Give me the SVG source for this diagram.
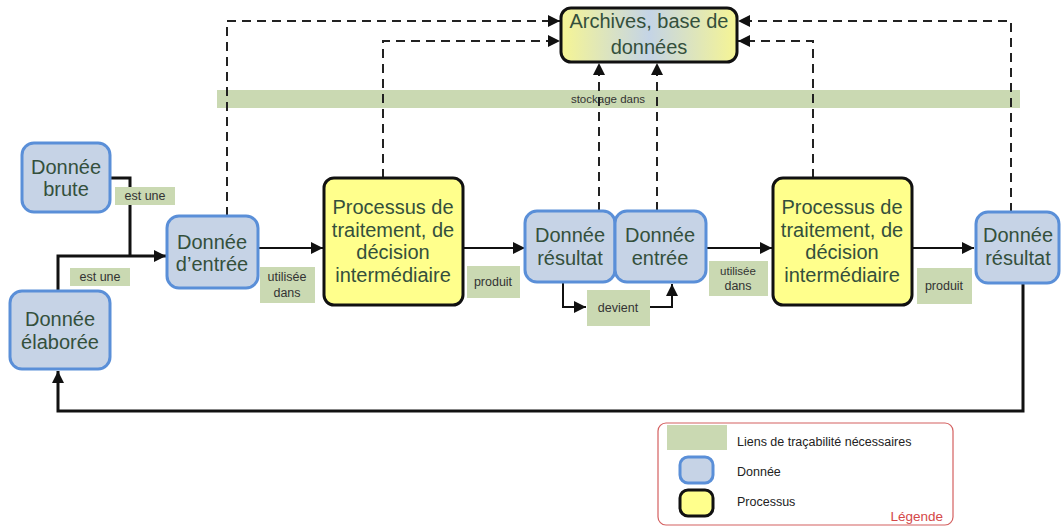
<svg xmlns="http://www.w3.org/2000/svg" width="1061" height="527" viewBox="0 0 1061 527">
<style>
.data{fill:#c6d3e6;stroke:#5a8fd8;stroke-width:3}
.proc{fill:#ffff8c;stroke:#111;stroke-width:3}
.bt{font-family:"Liberation Sans",Arial,sans-serif;font-size:20px;fill:#34503c;text-anchor:middle}
.lbl{fill:#cad9b2}
.lt{font-family:"Liberation Sans",Arial,sans-serif;font-size:12.5px;fill:#333;text-anchor:middle}
.solid{fill:none;stroke:#111;stroke-width:2}
.thick{fill:none;stroke:#111;stroke-width:3}
.dash{fill:none;stroke:#222;stroke-width:2;stroke-dasharray:9 6}
.leg{font-family:"Liberation Sans",Arial,sans-serif;font-size:12.5px;fill:#222}
</style>
<defs>
<marker id="arr" markerUnits="userSpaceOnUse" markerWidth="14" markerHeight="12" refX="12" refY="6" orient="auto">
<path d="M0,0 L12,6 L0,12 z" fill="#111"/>
</marker>
<linearGradient id="arch" x1="0" y1="0" x2="1" y2="0">
<stop offset="0" stop-color="#f6f594"/>
<stop offset="0.5" stop-color="#c4d4e6"/>
<stop offset="1" stop-color="#f6f594"/>
</linearGradient>
</defs>
<rect width="1061" height="527" fill="#fff"/>

<g id="band">
<rect x="217" y="90" width="803" height="18" class="lbl"/>
<text x="608" y="103" class="lt" style="font-size:11.5px">stockage dans</text>
</g>

<g id="connectors">
<path class="thick" d="M110,178 H130 V256"/>
<path class="thick" d="M58,291 V256 H166" marker-end="url(#arr)"/>
<path class="solid" d="M258,248 H323" marker-end="url(#arr)"/>
<path class="solid" d="M463,248 H525" marker-end="url(#arr)"/>
<path class="solid" d="M706,248 H772" marker-end="url(#arr)"/>
<path class="solid" d="M912,248 H974" marker-end="url(#arr)"/>
<path class="solid" d="M563,283 V307 H586" marker-end="url(#arr)"/>
<path class="solid" d="M650,307 H672 V284" marker-end="url(#arr)"/>
<path class="thick" d="M1023,283 V411 H58 V371" marker-end="url(#arr)"/>
<path class="dash" d="M227,216 V21 H560" marker-end="url(#arr)"/>
<path class="dash" d="M383,178 V41 H560" marker-end="url(#arr)"/>
<path class="dash" d="M599,211 V63" marker-end="url(#arr)"/>
<path class="dash" d="M657,211 V63" marker-end="url(#arr)"/>
<path class="dash" d="M813,178 V41 H738" marker-end="url(#arr)"/>
<path class="dash" d="M1011,212 V21 H738" marker-end="url(#arr)"/>
</g>

<g id="labels">
<rect x="115" y="187" width="60" height="18" class="lbl"/>
<text x="145" y="200" class="lt">est une</text>
<rect x="70" y="268" width="60" height="18" class="lbl"/>
<text x="100" y="281" class="lt">est une</text>
<rect x="260" y="267" width="55" height="36" class="lbl"/>
<text x="287" y="281" class="lt">utilisée</text>
<text x="287" y="297" class="lt">dans</text>
<rect x="467" y="266" width="53" height="32" class="lbl"/>
<text x="493" y="286" class="lt">produit</text>
<rect x="587" y="290" width="63" height="36" class="lbl"/>
<text x="618" y="312" class="lt">devient</text>
<rect x="709" y="261" width="59" height="35" class="lbl"/>
<text x="738" y="275" class="lt" style="font-size:11.5px">utilisée</text>
<text x="738" y="290" class="lt">dans</text>
<rect x="917" y="268" width="55" height="36" class="lbl"/>
<text x="944" y="290" class="lt">produit</text>
</g>

<g id="archives">
<rect x="561" y="8" width="176" height="54" rx="10" fill="url(#arch)" stroke="#111" stroke-width="3"/>
<text x="649" y="28" class="bt">Archives, base de</text>
<text x="649" y="54" class="bt">données</text>
</g>

<g id="donnee-brute">
<rect x="22" y="143" width="88" height="69" rx="12" class="data"/>
<text x="66" y="174" class="bt">Donnée</text>
<text x="66" y="196" class="bt">brute</text>
</g>

<g id="donnee-elaboree">
<rect x="10" y="291" width="100" height="78" rx="12" class="data"/>
<text x="60" y="326" class="bt">Donnée</text>
<text x="60" y="349" class="bt">élaborée</text>
</g>

<g id="donnee-entree-1">
<rect x="167" y="216" width="91" height="72" rx="12" class="data"/>
<text x="212" y="249" class="bt">Donnée</text>
<text x="212" y="271" class="bt">d’entrée</text>
</g>

<g id="processus-1">
<rect x="324" y="178" width="139" height="127" rx="10" class="proc"/>
<text x="393" y="214" class="bt">Processus de</text>
<text x="393" y="237" class="bt">traitement, de</text>
<text x="393" y="259" class="bt">décision</text>
<text x="393" y="282" class="bt">intermédiaire</text>
</g>

<g id="donnee-resultat-1">
<rect x="525" y="211" width="90" height="71" rx="12" class="data"/>
<text x="570" y="242" class="bt">Donnée</text>
<text x="570" y="265" class="bt">résultat</text>
</g>

<g id="donnee-entree-2">
<rect x="615" y="211" width="91" height="71" rx="12" class="data"/>
<text x="660" y="242" class="bt">Donnée</text>
<text x="660" y="265" class="bt">entrée</text>
</g>

<g id="processus-2">
<rect x="773" y="178" width="139" height="127" rx="10" class="proc"/>
<text x="842" y="214" class="bt">Processus de</text>
<text x="842" y="237" class="bt">traitement, de</text>
<text x="842" y="259" class="bt">décision</text>
<text x="842" y="282" class="bt">intermédiaire</text>
</g>

<g id="donnee-resultat-2">
<rect x="976" y="212" width="83" height="71" rx="12" class="data"/>
<text x="1018" y="242" class="bt">Donnée</text>
<text x="1018" y="265" class="bt">résultat</text>
</g>

<g id="legende">
<rect x="658" y="423" width="295" height="102" rx="8" fill="#fff" stroke="#d46060" stroke-width="1.2"/>
<rect x="667" y="425" width="60" height="25" class="lbl"/>
<text x="737" y="446" class="leg">Liens de traçabilité nécessaires</text>
<rect x="680" y="457" width="33" height="26" rx="8" class="data"/>
<text x="737" y="476" class="leg">Donnée</text>
<rect x="680" y="490" width="33" height="26" rx="8" class="proc"/>
<text x="737" y="506" class="leg">Processus</text>
<text x="943" y="521" text-anchor="end" font-family="Liberation Sans, Arial, sans-serif" font-size="13.5" fill="#d44848">Légende</text>
</g>
</svg>
